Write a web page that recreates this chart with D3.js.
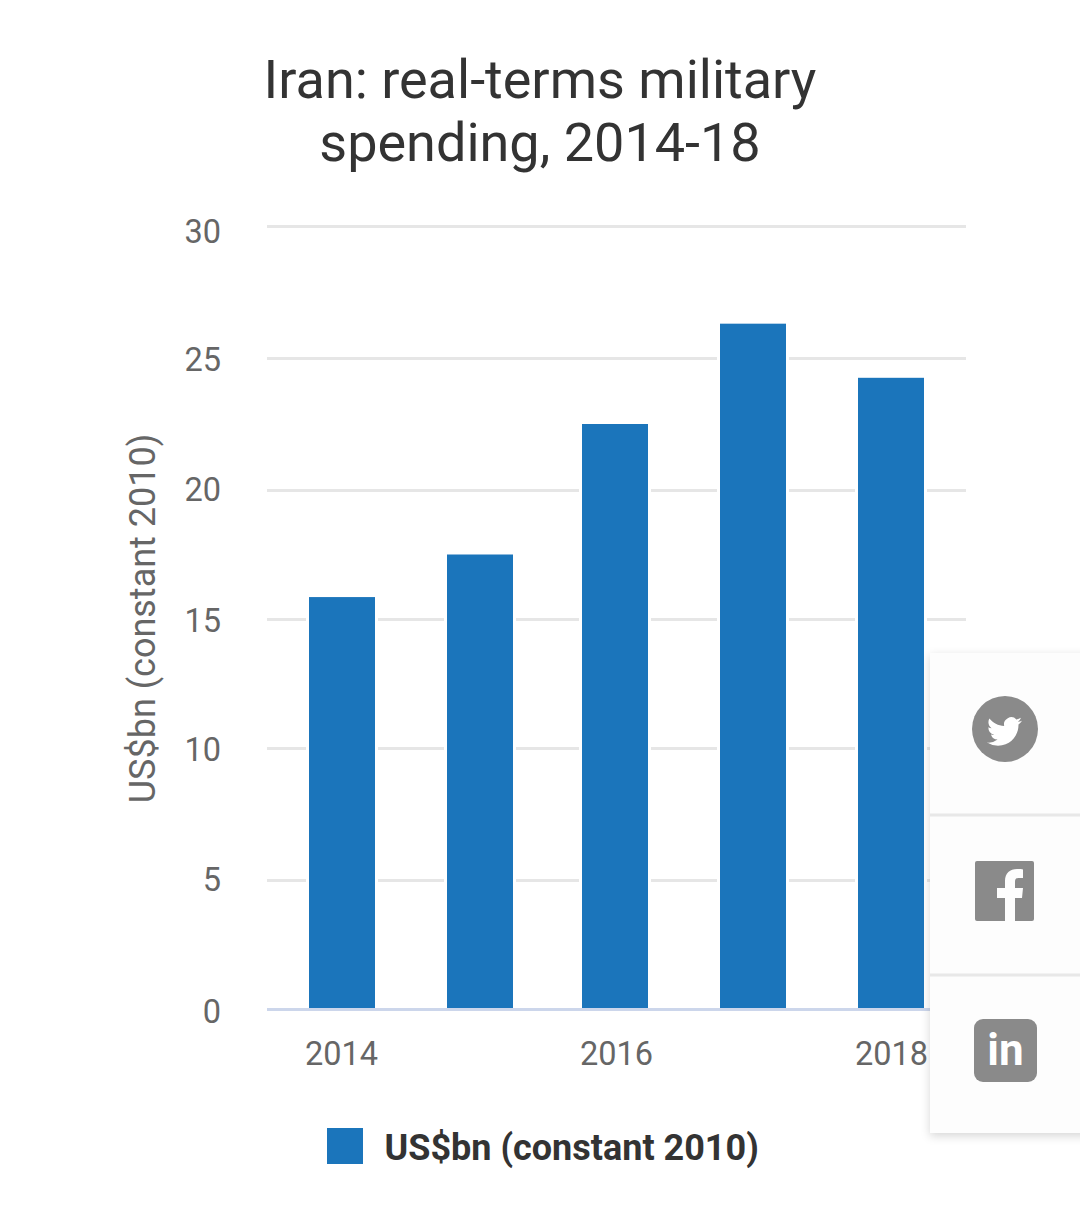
<!DOCTYPE html>
<html><head><meta charset="utf-8">
<script src="https://cdn.jsdelivr.net/npm/d3@7"></script>
<style>html,body{margin:0;padding:0;background:#fff;overflow:hidden}svg{display:block;font-family:Roboto,sans-serif}</style>
</head><body><svg id="c" width="1080" height="1232"></svg>
<script>
const years=["2014","2015","2016","2017","2018"];
const spending=[15.85,17.5,22.5,26.3,24.25];
const yTicks=[0,5,10,15,20,25,30];
const xTickLabels=["2014","2016","2018"];
const titleLines=["Iran: real-terms military","spending, 2014-18"];
const seriesName="US$bn (constant 2010)";

const svg=d3.select("#c");
const barW=66;
const x=d3.scaleOrdinal().domain(years).range([342,480,615,753,891]);
const xLabel=d3.scaleOrdinal().domain(years).range([341,480,616,753,891]);
const y=d3.scaleLinear().domain(yTicks).range([1009,880,748,619,490,358,226]);
const yLabel=d3.scaleLinear().domain(yTicks).range([1011,879,749,620,489,359,231]);

svg.append("g").selectAll("text").data(titleLines).join("text")
  .attr("x",540).attr("y",(d,i)=>98+i*63).attr("text-anchor","middle")
  .attr("font-size",54).attr("fill","#333").text(d=>d);

// gridlines
const gGrid=svg.append("g").attr("transform","translate(267,0)")
  .call(d3.axisLeft(y).tickValues(yTicks).tickSize(0).tickFormat(""));
gGrid.select(".domain").remove();
gGrid.selectAll("line").attr("x1",0).attr("x2",699).attr("stroke",d=>d===0?"#ccd6eb":"#e6e6e6").attr("stroke-width",3);

// y tick labels
const gy=svg.append("g").attr("transform","translate(221,0)")
  .call(d3.axisLeft(yLabel).tickValues(yTicks).tickSize(0).tickPadding(0));
gy.select(".domain").remove();
gy.selectAll("line").remove();
gy.selectAll("text").attr("font-size",32.5).attr("font-family","Roboto").attr("fill","#666").attr("dy","0.36em");

// white halo behind bars, then bars
svg.append("g").selectAll("rect").data(years).join("rect")
  .attr("x",d=>x(d)-barW/2-3).attr("width",barW+6)
  .attr("y",(d,i)=>y(spending[i])).attr("height",(d,i)=>y(0)-y(spending[i])-2)
  .attr("fill","#fff");
svg.append("g").selectAll("rect").data(years).join("rect")
  .attr("x",d=>x(d)-barW/2).attr("width",barW)
  .attr("y",(d,i)=>y(spending[i])).attr("height",(d,i)=>y(0)-y(spending[i])-1)
  .attr("fill","#1b75bb");

const gx=svg.append("g").attr("transform","translate(0,1009)")
  .call(d3.axisBottom(xLabel).tickValues(xTickLabels).tickSize(0).tickPadding(33));
gx.select(".domain").remove();
gx.selectAll("text").attr("font-size",32.5).attr("font-family","Roboto").attr("fill","#666");

svg.append("text").attr("transform","translate(155,618.500) rotate(-90)").attr("text-anchor","middle")
  .attr("font-size",36).attr("fill","#666").text(seriesName);

svg.append("rect").attr("x",327).attr("y",1128).attr("width",36).attr("height",36).attr("fill","#1b75bb");
svg.append("text").attr("x",384.500).attr("y",1160).attr("font-size",36).attr("font-weight",700).attr("fill","#333").text(seriesName);

// Share panel
const defs=svg.append("defs");
const f=defs.append("filter").attr("id","sh").attr("x","-30%").attr("y","-10%").attr("width","160%").attr("height","120%");
f.append("feDropShadow").attr("dx",0).attr("dy",3).attr("stdDeviation",5).attr("flood-color","#000").attr("flood-opacity",0.16);
const p=svg.append("g");
p.append("rect").attr("x",930).attr("y",653).attr("width",170).attr("height",480).attr("fill","#fdfdfd").attr("filter","url(#sh)");
p.selectAll("line").data([815,975]).join("line").attr("x1",930).attr("x2",1080).attr("y1",d=>d).attr("y2",d=>d).attr("stroke","#e8e8e8").attr("stroke-width",3);
const ic="#8a8a8a";
p.append("circle").attr("cx",1005).attr("cy",729).attr("r",33).attr("fill",ic);
p.append("path").attr("transform","translate(987,714) scale(1.46)").attr("fill","#fff")
 .attr("d","M23.953 4.57a10 10 0 01-2.825.775 4.958 4.958 0 002.163-2.723c-.951.555-2.005.959-3.127 1.184a4.92 4.92 0 00-8.384 4.482C7.69 8.095 4.067 6.13 1.64 3.162a4.822 4.822 0 00-.666 2.475c0 1.71.87 3.213 2.188 4.096a4.904 4.904 0 01-2.228-.616v.06a4.923 4.923 0 003.946 4.827 4.996 4.996 0 01-2.212.085 4.936 4.936 0 004.604 3.417 9.867 9.867 0 01-6.102 2.105c-.39 0-.779-.023-1.17-.067a13.995 13.995 0 007.557 2.209c9.053 0 13.998-7.496 13.998-13.985 0-.21 0-.42-.015-.63A9.935 9.935 0 0024 4.59z");
p.append("rect").attr("x",975).attr("y",861).attr("width",59).attr("height",60).attr("rx",2).attr("fill",ic);
p.append("path").attr("fill","#fdfdfd")
 .attr("d","M1005 921V898H997V888H1005V881C1005 873 1010 869 1017 869C1020 869 1022 869 1023 869.500V878H1019C1016 878 1015 879 1015 882V888H1023L1022 898H1015V921Z");
p.append("rect").attr("x",974).attr("y",1019).attr("width",63).attr("height",63).attr("rx",9).attr("fill",ic);
p.append("text").attr("x",1005.500).attr("y",1065).attr("text-anchor","middle").attr("font-size",44).attr("font-weight",700).attr("fill","#fff").text("in");
</script></body></html>
